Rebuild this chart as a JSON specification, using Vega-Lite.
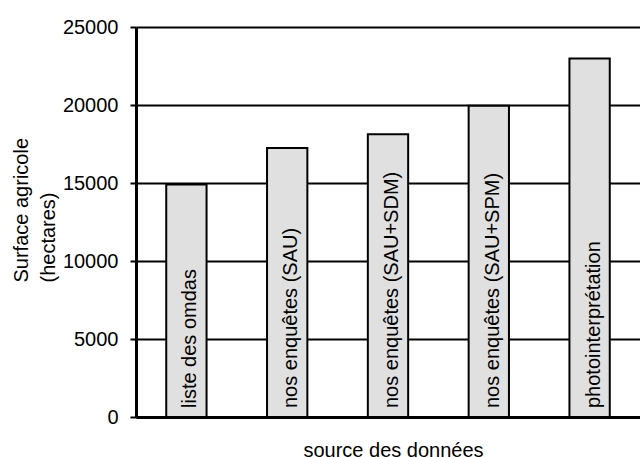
{
  "$schema": "https://vega.github.io/schema/vega-lite/v6.json",
  "width": 504,
  "height": 390,
  "autosize": "none",
  "padding": {"left": 136, "top": 27, "right": 0, "bottom": 40},
  "background": "white",
  "config": {
    "view": {"stroke": null},
    "font": "Liberation Sans",
    "axis": {"labelFont": "Liberation Sans", "titleFont": "Liberation Sans", "labelColor": "black", "titleColor": "black", "titleFontWeight": "normal"}
  },
  "data": {
    "values": [
      {"source": "liste des omdas", "surface": 14900},
      {"source": "nos enquêtes (SAU)", "surface": 17250},
      {"source": "nos enquêtes (SAU+SDM)", "surface": 18120},
      {"source": "nos enquêtes (SAU+SPM)", "surface": 19950},
      {"source": "photointerprétation", "surface": 22980}
    ]
  },
  "encoding": {
    "x": {
      "field": "source",
      "type": "nominal",
      "sort": null,
      "scale": {"paddingInner": 0.6, "paddingOuter": 0.3},
      "axis": {
        "title": "source des données",
        "labels": false,
        "ticks": false,
        "domainColor": "black",
        "domainWidth": 3,
        "titleFontSize": 20,
        "titleBaseline": "alphabetic",
        "titleY": 39,
        "titleX": 257
      }
    }
  },
  "layer": [
    {
      "mark": {"type": "bar", "fill": "#e0e0e0", "stroke": "black", "strokeWidth": 2},
      "encoding": {
        "y": {
          "field": "surface",
          "type": "quantitative",
          "scale": {"domain": [0, 25000], "nice": false},
          "axis": {
            "title": ["Surface agricole", "(hectares)"],
            "values": [0, 5000, 10000, 15000, 20000, 25000],
            "format": "d",
            "grid": true,
            "gridColor": "black",
            "gridWidth": 2,
            "gridOpacity": 1,
            "domainColor": "black",
            "domainWidth": 3,
            "tickColor": "black",
            "tickWidth": 2,
            "tickSize": 6,
            "labelFontSize": 20,
            "labelPadding": 12,
            "labelBaseline": "middle",
            "titleFontSize": 20,
            "titleAngle": -90,
            "titleAlign": "left",
            "titleBaseline": "alphabetic",
            "titleLineHeight": 27,
            "titleX": -109,
            "titleY": 255
          }
        }
      }
    },
    {
      "mark": {"type": "text", "angle": -90, "align": "left", "baseline": "alphabetic", "dx": 9, "dy": 10, "fontSize": 20, "color": "black", "font": "Liberation Sans"},
      "encoding": {
        "y": {"datum": 0, "type": "quantitative"},
        "text": {"field": "source"}
      }
    }
  ]
}
